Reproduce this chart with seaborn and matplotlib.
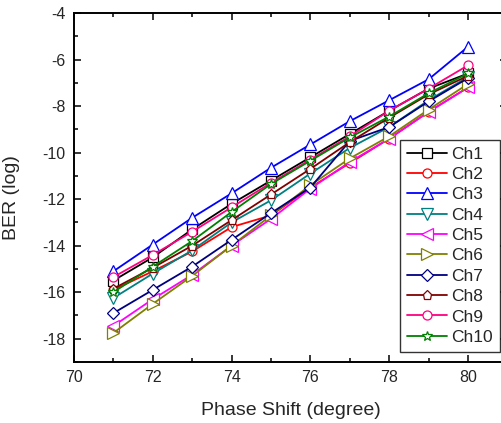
import matplotlib
matplotlib.use("Agg")
import matplotlib.pyplot as plt
from matplotlib.ticker import MultipleLocator
import seaborn as sns
import pandas as pd

phase = [71, 72, 73, 74, 75, 76, 77, 78, 79, 80]
ch1 = [-15.5, -14.5, -13.3, -12.2, -11.2, -10.2, -9.2, -8.2, -7.25, -6.6]
ch2 = [-15.9, -15.1, -14.25, -13.2, -12.7, -11.5, -10.45, -9.4, -8.25, -7.2]
ch3 = [-15.1, -13.95, -12.8, -11.75, -10.65, -9.65, -8.65, -7.75, -6.85, -5.45]
ch4 = [-16.25, -15.2, -14.2, -13.0, -12.05, -10.9, -9.8, -8.9, -7.75, -6.75]
ch5 = [-17.45, -16.3, -15.25, -14.0, -12.85, -11.55, -10.4, -9.4, -8.25, -7.2]
ch6 = [-17.75, -16.5, -15.3, -14.0, -12.7, -11.4, -10.25, -9.3, -8.15, -7.05]
ch7 = [-16.9, -15.9, -14.9, -13.75, -12.6, -11.5, -9.5, -8.9, -7.8, -6.8]
ch8 = [-15.85, -14.95, -14.0, -12.9, -11.8, -10.7, -9.55, -8.5, -7.5, -6.7]
ch9 = [-15.35, -14.4, -13.4, -12.35, -11.3, -10.3, -9.3, -8.2, -7.25, -6.25]
ch10 = [-16.0, -14.9, -13.8, -12.55, -11.35, -10.35, -9.35, -8.45, -7.45, -6.6]

names = ["Ch1", "Ch2", "Ch3", "Ch4", "Ch5", "Ch6", "Ch7", "Ch8", "Ch9", "Ch10"]
series = [ch1, ch2, ch3, ch4, ch5, ch6, ch7, ch8, ch9, ch10]
colors = ["#000000", "#FF0000", "#0000FF", "#008080", "#FF00FF",
          "#808000", "#000080", "#800000", "#FF0080", "#008000"]
markers = ["s", "o", "^", "v", "<", ">", "D", "p", "o", "*"]

sns.set_style("ticks")
plt.rcParams["font.family"] = ["Liberation Sans", "DejaVu Sans"]
plt.rcParams["axes.unicode_minus"] = False

fig = plt.figure(figsize=(5.02, 4.23), dpi=100)
ax = fig.add_axes([74 / 502, 61 / 423, 433.4 / 502, 349 / 423])

for name, vals, c, m in zip(names, series, colors, markers):
    df = pd.DataFrame({"phase": phase, "ber": vals})
    ms = 8.5 if m in "^v<>" else (7.5 if m == "*" else 6.5)
    if m == "D":
        ms = 6
    sns.lineplot(data=df, x="phase", y="ber", ax=ax, color=c, marker=m,
                 markersize=ms, markerfacecolor="white", markeredgecolor=c,
                 markeredgewidth=0.9, linewidth=1.3, label=name)

ax.set_xlim(70, 81)
ax.set_ylim(-19, -4)
ax.set_xticks([70, 72, 74, 76, 78, 80])
ax.set_yticks([-18, -16, -14, -12, -10, -8, -6, -4])
ax.xaxis.set_minor_locator(MultipleLocator(1))
ax.yaxis.set_minor_locator(MultipleLocator(1))
ax.tick_params(which="both", direction="in", top=True, right=True,
               width=1.1, color="black")
ax.tick_params(which="major", length=5, labelsize=11.5, pad=6)
ax.tick_params(which="minor", length=3.2)
for s in ax.spines.values():
    s.set_linewidth(1.4)
    s.set_color("black")

ax.set_xlabel("Phase Shift (degree)", fontsize=14)
ax.set_ylabel("BER (log)", fontsize=14)
ax.xaxis.set_label_coords(0.5, -0.115)
ax.yaxis.set_label_coords(-0.125, 0.47)

leg = ax.legend(loc="lower left", bbox_to_anchor=(0.752, 0.029), fontsize=12.5,
                frameon=True, fancybox=False, edgecolor="black",
                labelspacing=0.3, handlelength=2.3, handletextpad=0.25,
                borderpad=0.4, borderaxespad=0)
leg.get_frame().set_linewidth(1.0)

fig.savefig("out.png", dpi=100)
